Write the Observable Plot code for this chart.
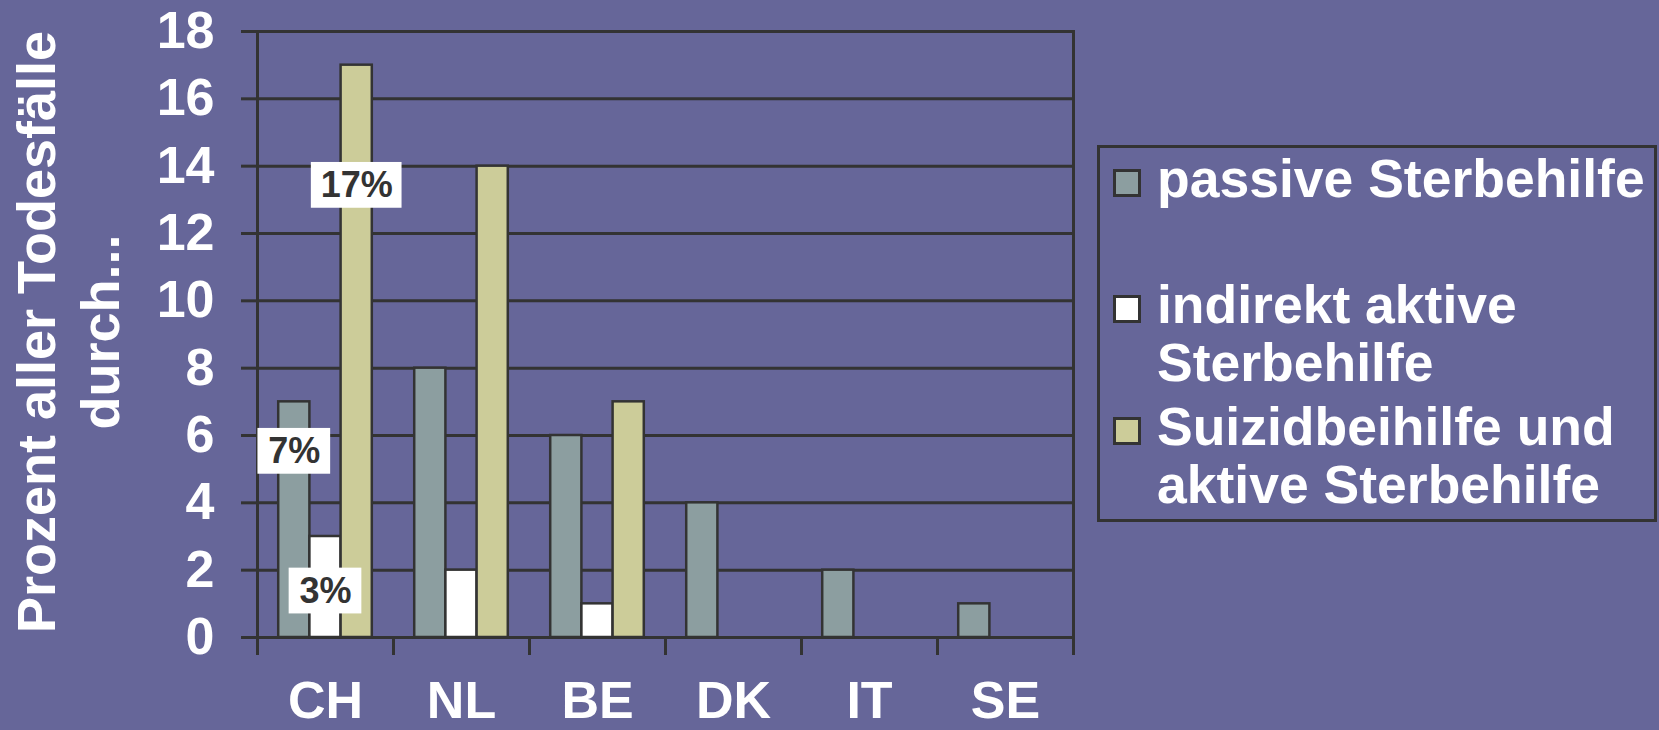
<!DOCTYPE html>
<html>
<head>
<meta charset="utf-8">
<script src="https://cdn.jsdelivr.net/npm/d3@7"></script>
<script src="https://cdn.jsdelivr.net/npm/@observablehq/plot@0.6"></script>
<style>
  html, body { margin: 0; padding: 0; background: #666699; overflow: hidden; }
  #wrap { position: relative; width: 1659px; height: 730px; font-family: "Liberation Sans", Arial, sans-serif; }
  #ytitle {
    position: absolute; width: 700px; height: 128px; left: -281.7px; top: 268px;
    transform: rotate(-90deg); transform-origin: 50% 50%;
    text-align: center; color: white; font-weight: bold; font-size: 54px; line-height: 64px;
  }
  #legend {
    position: absolute; left: 1097px; top: 145px; width: 560px; height: 377px;
    box-sizing: border-box; border: 3px solid #333;
  }
  .item { position: absolute; left: 0; color: white; font-weight: bold; font-size: 53.5px; line-height: 58px; }
  .item .txt { position: absolute; left: 57px; white-space: nowrap; }
  .item .sw { position: absolute; left: 13px; width: 28px; height: 28px; box-sizing: border-box; border: 3px solid #333; }
</style>
</head>
<body>
<div id="wrap"></div>
<script>
// ---- data ----
const countries = ["CH", "NL", "BE", "DK", "IT", "SE"];
const series = ["passive Sterbehilfe", "indirekt aktive Sterbehilfe", "Suizidbeihilfe und aktive Sterbehilfe"];
const passive = [7, 8, 6, 4, 2, 1];
const indirekt = [3, 2, 1, null, null, null];
const suizid = [17, 14, 7, null, null, null];
const yTicks = [0, 2, 4, 6, 8, 10, 12, 14, 16, 18];
const yTitle = ["Prozent aller Todesfälle", "durch..."];
const legendLines = [["passive Sterbehilfe"], ["indirekt aktive", "Sterbehilfe"], ["Suizidbeihilfe und", "aktive Sterbehilfe"]];
const labelCountry = ["CH", "CH", "CH"];
const labelSeries = [2, 0, 1];
const labelText = ["17%", "7%", "3%"];

// ---- styling ----
const palette = ["#8C9EA0", "#FFFFFF", "#CCCC99"];
const ink = "#333333";

// ---- tables ----
const valuesBySeries = [passive, indirekt, suizid];
const bars = [];
countries.forEach((c, i) => series.forEach((s, j) => {
  const v = valuesBySeries[j][i];
  if (v != null) bars.push({country: c, series: s, value: v});
}));
const labels = labelText.map((t, k) => {
  const c = labelCountry[k], j = labelSeries[k];
  const v = valuesBySeries[j][countries.indexOf(c)];
  return {country: c, series: series[j], value: v, text: t};
});
const labelY = d => d.value * (d.value > 5 ? 0.79 : 0.46);
const boxHalf = 0.68;

const chart = Plot.plot({
  width: 1659, height: 730,
  marginTop: 31, marginBottom: 93, marginLeft: 255, marginRight: 585,
  style: {background: "transparent", color: "white", fontFamily: "'Liberation Sans', Arial, sans-serif", overflow: "visible"},
  fx: {domain: countries, padding: 0, label: null},
  x: {domain: series, paddingInner: 0, paddingOuter: 0.68, round: false, axis: null},
  y: {domain: [0, 18], label: null},
  color: {domain: series, range: palette},
  marks: [
    Plot.gridY(yTicks, {stroke: ink, strokeOpacity: 1, strokeWidth: 3}),
    Plot.frame({facet: "super", anchor: "left", stroke: ink, strokeWidth: 3, insetBottom: -16}),
    Plot.frame({facet: "super", anchor: "right", stroke: ink, strokeWidth: 3, insetBottom: -16}),
    Plot.frame({anchor: "left", stroke: ink, strokeWidth: 3, insetTop: 606, insetBottom: -16}),
    Plot.axisY(yTicks, {tickSize: 16, tickPadding: 27, stroke: ink, strokeWidth: 3, fill: "white", fontSize: 52, fontWeight: "bold", label: null}),
    Plot.axisFx({anchor: "bottom", tickSize: 0, tickPadding: 44, fill: "white", fontSize: 52, fontWeight: "bold", label: null}),
    Plot.barY(bars, {fx: "country", x: "series", y: "value", fill: "series", stroke: ink, strokeWidth: 2.5}),
    Plot.barY(labels.filter(d => d.text.length > 2), {fx: "country", x: "series", y1: d => labelY(d) - boxHalf, y2: d => labelY(d) + boxHalf, fill: "white", insetLeft: -29.75, insetRight: -29.75}),
    Plot.barY(labels.filter(d => d.text.length <= 2), {fx: "country", x: "series", y1: d => labelY(d) - boxHalf, y2: d => labelY(d) + boxHalf, fill: "white", insetLeft: -20.75, insetRight: -20.75}),
    Plot.text(labels, {fx: "country", x: "series", y: labelY, text: "text", fill: ink, fontSize: 36, fontWeight: "bold"})
  ]
});

const wrap = document.getElementById("wrap");
wrap.appendChild(chart);

const yt = document.createElement("div");
yt.id = "ytitle";
yt.innerHTML = yTitle.join("<br>");
wrap.appendChild(yt);

const legend = document.createElement("div");
legend.id = "legend";
const itemTops = [1.5, 127.5, 249.5];
legendLines.forEach((lines, j) => {
  const it = document.createElement("div");
  it.className = "item";
  it.style.top = itemTops[j] + "px";
  const sw = document.createElement("div");
  sw.className = "sw";
  sw.style.background = palette[j];
  sw.style.top = "19.5px";
  const tx = document.createElement("div");
  tx.className = "txt";
  tx.innerHTML = lines.join("<br>");
  it.appendChild(sw); it.appendChild(tx);
  legend.appendChild(it);
});
wrap.appendChild(legend);
</script>
</body>
</html>
